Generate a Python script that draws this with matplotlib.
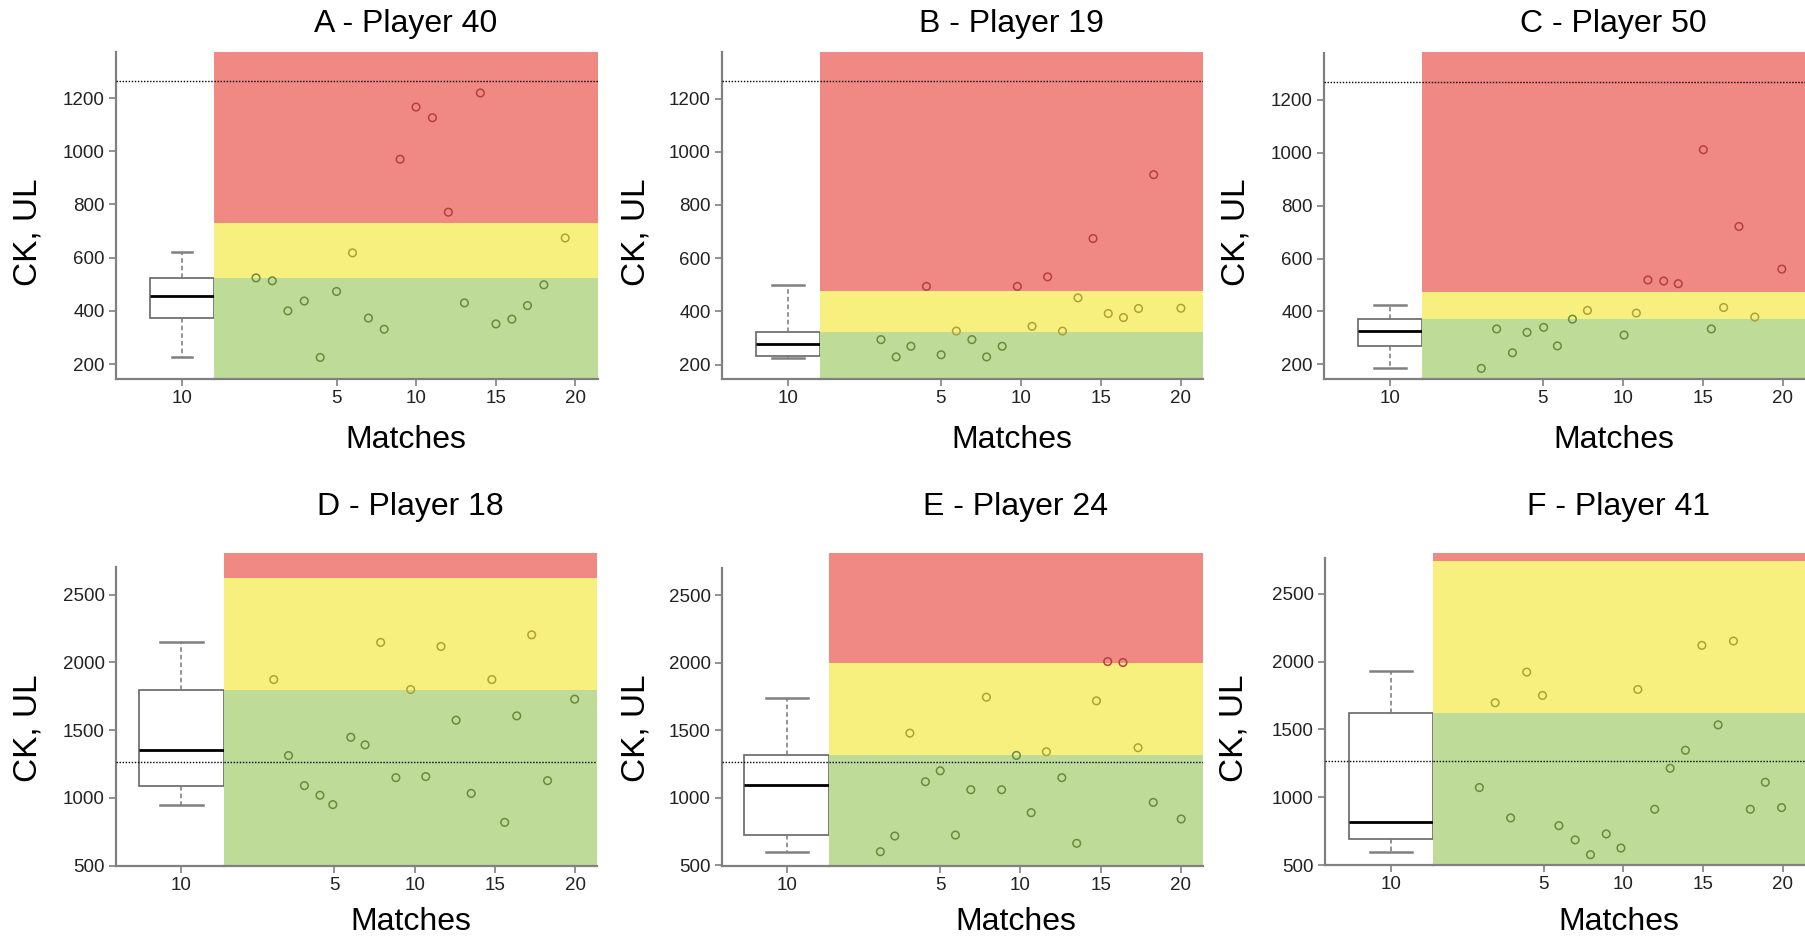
import matplotlib
matplotlib.use("Agg")
import matplotlib.pyplot as plt

plt.rcParams["font.family"] = ["Liberation Sans", "DejaVu Sans"]

# ---------------------------------------------------------------- data
titles = ["A - Player 40", "B - Player 19", "C - Player 50",
          "D - Player 18", "E - Player 24", "F - Player 41"]

match_a = [-0.06, 0.96, 1.94, 2.97, 3.97, 5.0, 6.0, 7.0, 7.99, 8.99,
           9.99, 11.02, 12.02, 13.03, 14.03, 15.01, 16.01, 16.99, 18.02, 19.36]
ck_a = [524, 513, 400, 437, 225, 473, 618, 373, 331, 970,
        1166, 1126, 771, 430, 1219, 351, 369, 420, 498, 674]

match_b = [1.26, 2.21, 3.13, 4.10, 5.02, 5.97, 6.94, 7.86, 8.83, 9.78,
           10.70, 11.67, 12.60, 13.57, 14.51, 15.46, 16.41, 17.35, 18.30, 20.0]
ck_b = [294, 229, 269, 494, 237, 326, 294, 229, 269, 494,
        344, 530, 326, 451, 674, 392, 377, 411, 914, 412]

match_c = [1.15, 2.11, 3.10, 4.01, 5.05, 5.91, 6.85, 7.79, 10.08, 10.85,
           11.57, 12.56, 13.47, 15.04, 15.54, 16.31, 17.27, 18.26, 19.95]
ck_c = [185, 334, 244, 321, 340, 270, 371, 404, 311, 394,
        519, 515, 505, 1011, 334, 415, 721, 379, 560]

match_d = [1.22, 2.14, 3.13, 4.10, 4.90, 6.02, 6.91, 7.88, 8.83, 9.75,
           10.69, 11.64, 12.58, 13.52, 14.81, 15.61, 16.36, 17.29, 18.28, 19.97]
ck_d = [1874, 1313, 1091, 1020, 951, 1448, 1392, 2148, 1150, 1800,
        1158, 2118, 1574, 1034, 1874, 820, 1606, 2204, 1128, 1729]

match_e = [1.27, 2.17, 3.11, 4.08, 5.0, 5.95, 6.91, 7.88, 8.83, 9.75,
           10.67, 11.62, 12.58, 13.51, 14.74, 15.44, 16.39, 17.33, 18.28, 20.02]
ck_e = [601, 717, 1479, 1119, 1200, 724, 1060, 1745, 1060, 1314,
        890, 1341, 1149, 663, 1718, 2009, 2002, 1371, 966, 843]

match_f = [0.97, 1.96, 2.93, 3.94, 4.93, 5.96, 6.98, 7.94, 8.93, 9.85,
           10.91, 11.97, 12.94, 13.90, 14.93, 15.95, 16.91, 17.97, 18.91, 19.93]
ck_f = [1071, 1696, 847, 1922, 1750, 790, 685, 576, 729, 625,
        1794, 911, 1213, 1346, 2119, 1533, 2151, 911, 1110, 923]

matches = [match_a, match_b, match_c, match_d, match_e, match_f]
ck_values = [ck_a, ck_b, ck_c, ck_d, ck_e, ck_f]

# box-plot summaries of the 10 baseline samples: low whisker, Q1, median, Q3, high whisker
box_whislo = [226, 226, 185, 951, 601, 596]
box_q1 = [375, 232, 270, 1091, 724, 694]
box_med = [455, 279, 327, 1352, 1092, 817]
box_q3 = [525, 322, 371, 1798, 1314, 1617]
box_whishi = [621, 501, 426, 2148, 1738, 1929]
box_label = "10"

# zone limits (green up to the first value, yellow up to the second, red above)
green_top = [525, 321, 372, 1796, 1314, 1617]
yellow_top = [731, 475, 472, 2623, 1999, 2739]

ref_line = 1265
x_ticks = [5, 10, 15, 20]
y_ticks_row1 = [200, 400, 600, 800, 1000, 1200]
y_ticks_row2 = [500, 1000, 1500, 2000, 2500]

# ---------------------------------------------------------------- layout
W, H = 1805, 940
fig = plt.figure(figsize=(W / 100, H / 100), dpi=100)

# pixel geometry of each panel: spine x, band start, band end, top, bottom
geom = [
    dict(sx=116, bs=214, be=598, top=52, bot=379),
    dict(sx=722, bs=820, be=1203, top=52, bot=379),
    dict(sx=1324, bs=1422, be=1805, top=52, bot=379),
    dict(sx=116, bs=224, be=597, top=553, bot=866),
    dict(sx=722, bs=829, be=1203, top=553, bot=866),
    dict(sx=1325, bs=1433, be=1805, top=553, bot=865),
]
ylims = [(144, 1373), (146, 1375), (145, 1380), (498, 2808), (495, 2813), (500, 2800)]
spine_tops = [1373, 1375, 1375, 2702, 2702, 2763]
xlims = [(-2.7, 21.42), (-2.55, 21.38), (-2.56, 21.4),
         (-1.88, 21.36), (-1.93, 21.38), (-1.94, 21.4)]
box_widths = [0.65, 0.654, 0.652, 0.79, 0.79, 0.78]
cap_widths = [0.21, 0.327, 0.326, 0.395, 0.395, 0.39]
ylabel_x = [28, 636, 1236, 28, 636, 1234]
ylabel_y = [232, 232, 232, 728, 728, 728]
title_y = [24, 24, 24, 507, 507, 507]
xlabel_y = [440, 440, 440, 922, 922, 922]

RED, YELLOW, GREEN = "#f08884", "#f8f07e", "#bedc98"
RED_E, YELLOW_E, GREEN_E = "#b5403f", "#aca238", "#6b8a3c"
AXIS_GREY = "#808080"


def fx(px):
    return px / W


def fy(py):
    return 1 - py / H


for i in range(6):
    g = geom[i]
    h = (g["bot"] - g["top"]) / H
    ax_box = fig.add_axes([fx(g["sx"]), fy(g["bot"]), fx(g["bs"] - g["sx"]), h])
    ax = fig.add_axes([fx(g["bs"]), fy(g["bot"]), fx(g["be"] - g["bs"]), h])
    ylo, yhi = ylims[i]

    # ---- baseline box plot
    w = box_widths[i]
    pos = 1 - w / 2
    stats = [dict(whislo=box_whislo[i], q1=box_q1[i], med=box_med[i],
                  q3=box_q3[i], whishi=box_whishi[i], fliers=[])]
    ax_box.bxp(stats, positions=[pos], widths=[w], capwidths=[cap_widths[i]],
               showfliers=False, patch_artist=True, manage_ticks=False,
               boxprops=dict(facecolor="white", edgecolor="#666666", linewidth=1.2),
               medianprops=dict(color="black", linewidth=2.0),
               whiskerprops=dict(color="#777777", linewidth=1.1, linestyle=(0, (3, 2))),
               capprops=dict(color="#808080", linewidth=1.8))
    ax_box.set_xlim(0, 1)
    ax_box.set_ylim(ylo, yhi)
    ax_box.set_xticks([pos])
    ax_box.set_xticklabels([box_label])
    ax_box.set_yticks(y_ticks_row1 if i < 3 else y_ticks_row2)
    for s in ("top", "right"):
        ax_box.spines[s].set_visible(False)
    ax_box.spines["left"].set_bounds(ylo, spine_tops[i])
    for s in ("left", "bottom"):
        ax_box.spines[s].set_color(AXIS_GREY)
        ax_box.spines[s].set_linewidth(1.6)
    ax_box.tick_params(direction="out", length=5, width=1.2, color=AXIS_GREY,
                       labelsize=13.5, labelcolor="#222222", pad=3)
    ax_box.axhline(ref_line, color="black", linestyle=(0, (1, 1.2)),
                   linewidth=1.0, zorder=5)
    ax_box.patch.set_alpha(0)

    # ---- match-by-match values over the zone bands
    gt, yt = green_top[i], yellow_top[i]
    ax.axhspan(ylo, gt, color=GREEN, lw=0, zorder=0)
    ax.axhspan(gt, yt, color=YELLOW, lw=0, zorder=0)
    ax.axhspan(yt, yhi, color=RED, lw=0, zorder=0)
    ax.axhline(ref_line, color="black", linestyle=(0, (1, 1.2)),
               linewidth=1.0, zorder=3)
    edge = [RED_E if v > yt else (YELLOW_E if v > gt else GREEN_E)
            for v in ck_values[i]]
    ax.scatter(matches[i], ck_values[i], s=30, facecolors="none",
               edgecolors=edge, linewidths=1.1, zorder=4)
    ax.set_xlim(*xlims[i])
    ax.set_ylim(ylo, yhi)
    ax.set_xticks(x_ticks)
    ax.set_yticks([])
    for s in ("left", "top", "right"):
        ax.spines[s].set_visible(False)
    ax.spines["bottom"].set_color(AXIS_GREY)
    ax.spines["bottom"].set_linewidth(1.6)
    ax.spines["bottom"].set_zorder(6)
    ax.tick_params(direction="out", length=5, width=1.2, color=AXIS_GREY,
                   labelsize=13.5, labelcolor="#222222", pad=3)

    cx = fx((g["bs"] + g["be"]) / 2)
    fig.text(cx, fy(title_y[i]), titles[i], ha="center", va="center",
             fontsize=23, color="black")
    fig.text(cx, fy(xlabel_y[i]), "Matches", ha="center", va="center",
             fontsize=23, color="black")
    fig.text(fx(ylabel_x[i]), fy(ylabel_y[i]), "CK, UL", ha="center",
             va="center", rotation=90, fontsize=24, color="black")

fig.savefig("out.png", dpi=100)
